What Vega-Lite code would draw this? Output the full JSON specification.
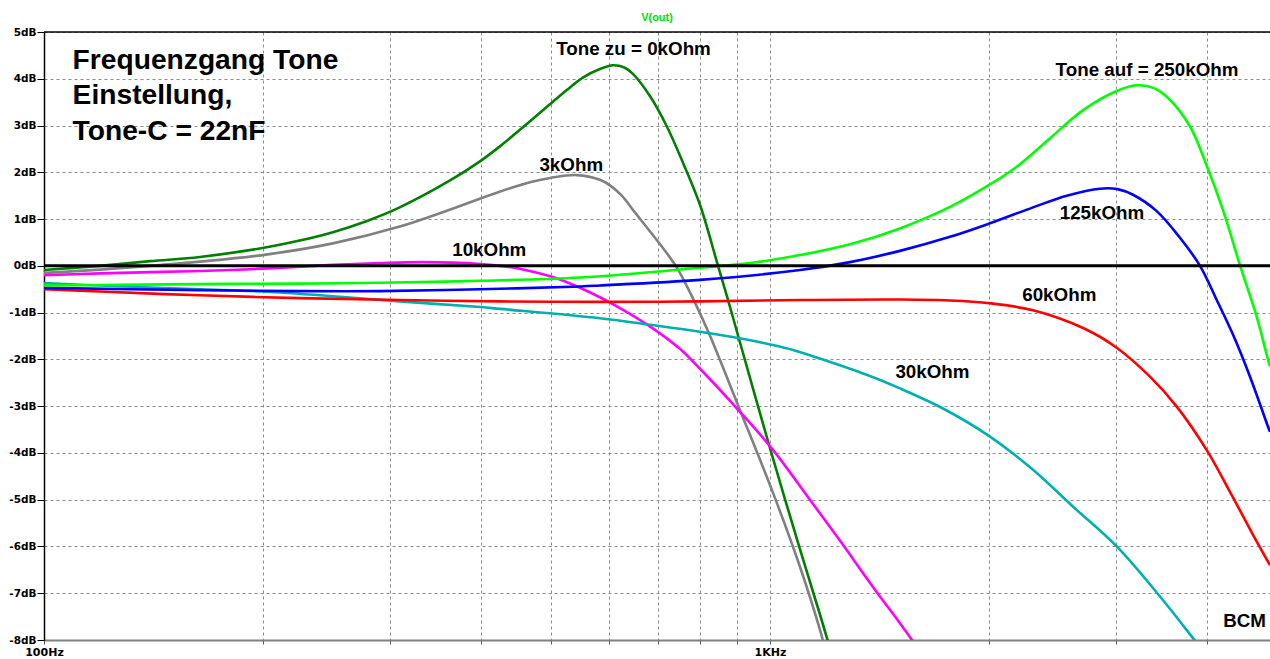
{
  "$schema": "https://vega.github.io/schema/vega-lite/v6.json",
  "width": 1226,
  "height": 608,
  "autosize": "none",
  "padding": {"left": 44, "top": 32, "right": 0, "bottom": 19},
  "background": "white",
  "config": {"view": {"stroke": null}, "font": "Liberation Sans"},
  "title": {"text": "V(out)", "color": "#00e000", "fontSize": 11, "fontWeight": "bold", "font": "Liberation Sans", "offset": 4},
  "datasets": {
    "curves": [
      {"s": "0k", "f": 100, "db": -0.09}, {"s": "0k", "f": 119.4, "db": 0.0}, {"s": "0k", "f": 140, "db": 0.1}, {"s": "0k", "f": 164, "db": 0.19},
      {"s": "0k", "f": 200, "db": 0.38}, {"s": "0k", "f": 225, "db": 0.54}, {"s": "0k", "f": 250, "db": 0.72}, {"s": "0k", "f": 278.6, "db": 0.96},
      {"s": "0k", "f": 309, "db": 1.25}, {"s": "0k", "f": 362, "db": 1.82}, {"s": "0k", "f": 399, "db": 2.24}, {"s": "0k", "f": 425, "db": 2.56},
      {"s": "0k", "f": 472, "db": 3.15}, {"s": "0k", "f": 525, "db": 3.76}, {"s": "0k", "f": 553, "db": 4.03}, {"s": "0k", "f": 583, "db": 4.21},
      {"s": "0k", "f": 608, "db": 4.29}, {"s": "0k", "f": 630, "db": 4.24}, {"s": "0k", "f": 648, "db": 4.1}, {"s": "0k", "f": 684, "db": 3.62}, {"s": "0k", "f": 721, "db": 2.98},
      {"s": "0k", "f": 759, "db": 2.2}, {"s": "0k", "f": 801, "db": 1.3}, {"s": "0k", "f": 848, "db": 0.0}, {"s": "0k", "f": 875, "db": -0.72},
      {"s": "0k", "f": 904, "db": -1.5}, {"s": "0k", "f": 1000, "db": -3.9}, {"s": "0k", "f": 1090, "db": -5.86}, {"s": "0k", "f": 1198, "db": -7.96},
      {"s": "0k", "f": 1229, "db": -8.6},

      {"s": "3k", "f": 100, "db": -0.15}, {"s": "3k", "f": 119.4, "db": -0.08}, {"s": "3k", "f": 164, "db": 0.09}, {"s": "3k", "f": 200, "db": 0.23},
      {"s": "3k", "f": 250, "db": 0.48}, {"s": "3k", "f": 309, "db": 0.84}, {"s": "3k", "f": 362, "db": 1.2}, {"s": "3k", "f": 425, "db": 1.59},
      {"s": "3k", "f": 470, "db": 1.8}, {"s": "3k", "f": 498, "db": 1.88}, {"s": "3k", "f": 542, "db": 1.94}, {"s": "3k", "f": 583, "db": 1.84},
      {"s": "3k", "f": 602, "db": 1.72}, {"s": "3k", "f": 625, "db": 1.5}, {"s": "3k", "f": 648, "db": 1.19}, {"s": "3k", "f": 684, "db": 0.73},
      {"s": "3k", "f": 721, "db": 0.27}, {"s": "3k", "f": 745, "db": -0.05}, {"s": "3k", "f": 769, "db": -0.45}, {"s": "3k", "f": 788, "db": -0.78},
      {"s": "3k", "f": 827, "db": -1.5}, {"s": "3k", "f": 909, "db": -3.08}, {"s": "3k", "f": 1010, "db": -4.86}, {"s": "3k", "f": 1100, "db": -6.44},
      {"s": "3k", "f": 1172, "db": -7.79}, {"s": "3k", "f": 1191, "db": -8.2},

      {"s": "10k", "f": 100, "db": -0.2}, {"s": "10k", "f": 119.4, "db": -0.16}, {"s": "10k", "f": 164, "db": -0.11}, {"s": "10k", "f": 200, "db": -0.06},
      {"s": "10k", "f": 250, "db": 0.02}, {"s": "10k", "f": 290, "db": 0.06}, {"s": "10k", "f": 333, "db": 0.08}, {"s": "10k", "f": 399, "db": 0.04},
      {"s": "10k", "f": 425, "db": 0.0}, {"s": "10k", "f": 452, "db": -0.06}, {"s": "10k", "f": 502, "db": -0.24}, {"s": "10k", "f": 553, "db": -0.5},
      {"s": "10k", "f": 616, "db": -0.87}, {"s": "10k", "f": 684, "db": -1.3}, {"s": "10k", "f": 752, "db": -1.78}, {"s": "10k", "f": 801, "db": -2.2},
      {"s": "10k", "f": 909, "db": -3.12}, {"s": "10k", "f": 1010, "db": -3.94}, {"s": "10k", "f": 1135, "db": -5.0}, {"s": "10k", "f": 1249, "db": -5.88},
      {"s": "10k", "f": 1387, "db": -6.87}, {"s": "10k", "f": 1510, "db": -7.64}, {"s": "10k", "f": 1569, "db": -8.0}, {"s": "10k", "f": 1609, "db": -8.25},

      {"s": "30k", "f": 100, "db": -0.37}, {"s": "30k", "f": 119.4, "db": -0.42}, {"s": "30k", "f": 164, "db": -0.5}, {"s": "30k", "f": 200, "db": -0.55},
      {"s": "30k", "f": 250, "db": -0.65}, {"s": "30k", "f": 309, "db": -0.76}, {"s": "30k", "f": 399, "db": -0.88}, {"s": "30k", "f": 425, "db": -0.92},
      {"s": "30k", "f": 583, "db": -1.12}, {"s": "30k", "f": 684, "db": -1.26}, {"s": "30k", "f": 801, "db": -1.41}, {"s": "30k", "f": 939, "db": -1.59},
      {"s": "30k", "f": 1000, "db": -1.68}, {"s": "30k", "f": 1076, "db": -1.8}, {"s": "30k", "f": 1160, "db": -1.96}, {"s": "30k", "f": 1359, "db": -2.33},
      {"s": "30k", "f": 1510, "db": -2.62}, {"s": "30k", "f": 1731, "db": -3.05}, {"s": "30k", "f": 2009, "db": -3.65}, {"s": "30k", "f": 2303, "db": -4.36},
      {"s": "30k", "f": 2615, "db": -5.15}, {"s": "30k", "f": 3003, "db": -6.0}, {"s": "30k", "f": 3445, "db": -7.07}, {"s": "30k", "f": 3825, "db": -7.96},
      {"s": "30k", "f": 3911, "db": -8.15},

      {"s": "60k", "f": 100, "db": -0.5}, {"s": "60k", "f": 119.4, "db": -0.55}, {"s": "60k", "f": 164, "db": -0.63}, {"s": "60k", "f": 225, "db": -0.69},
      {"s": "60k", "f": 309, "db": -0.73}, {"s": "60k", "f": 425, "db": -0.76}, {"s": "60k", "f": 583, "db": -0.77}, {"s": "60k", "f": 801, "db": -0.76},
      {"s": "60k", "f": 1100, "db": -0.73}, {"s": "60k", "f": 1510, "db": -0.72}, {"s": "60k", "f": 1770, "db": -0.74}, {"s": "60k", "f": 2009, "db": -0.8},
      {"s": "60k", "f": 2303, "db": -0.95}, {"s": "60k", "f": 2699, "db": -1.33}, {"s": "60k", "f": 3003, "db": -1.75}, {"s": "60k", "f": 3337, "db": -2.37},
      {"s": "60k", "f": 3633, "db": -3.01}, {"s": "60k", "f": 3995, "db": -3.94}, {"s": "60k", "f": 4342, "db": -4.95}, {"s": "60k", "f": 4627, "db": -5.75},
      {"s": "60k", "f": 4883, "db": -6.4},

      {"s": "125k", "f": 100, "db": -0.47}, {"s": "125k", "f": 164, "db": -0.52}, {"s": "125k", "f": 225, "db": -0.54}, {"s": "125k", "f": 290, "db": -0.54},
      {"s": "125k", "f": 399, "db": -0.5}, {"s": "125k", "f": 548, "db": -0.44}, {"s": "125k", "f": 583, "db": -0.42}, {"s": "125k", "f": 801, "db": -0.3},
      {"s": "125k", "f": 1100, "db": -0.09}, {"s": "125k", "f": 1289, "db": 0.08}, {"s": "125k", "f": 1510, "db": 0.32}, {"s": "125k", "f": 1770, "db": 0.62},
      {"s": "125k", "f": 2009, "db": 0.91}, {"s": "125k", "f": 2303, "db": 1.25}, {"s": "125k", "f": 2563, "db": 1.5}, {"s": "125k", "f": 2849, "db": 1.65},
      {"s": "125k", "f": 3010, "db": 1.64}, {"s": "125k", "f": 3162, "db": 1.52}, {"s": "125k", "f": 3409, "db": 1.17}, {"s": "125k", "f": 3670, "db": 0.6}, {"s": "125k", "f": 3911, "db": 0.0},
      {"s": "125k", "f": 4124, "db": -0.73}, {"s": "125k", "f": 4342, "db": -1.47}, {"s": "125k", "f": 4583, "db": -2.37}, {"s": "125k", "f": 4853, "db": -3.44},
      {"s": "125k", "f": 4883, "db": -3.55},

      {"s": "250k", "f": 100, "db": -0.42}, {"s": "250k", "f": 119.4, "db": -0.41}, {"s": "250k", "f": 164, "db": -0.39}, {"s": "250k", "f": 225, "db": -0.38},
      {"s": "250k", "f": 290, "db": -0.36}, {"s": "250k", "f": 399, "db": -0.32}, {"s": "250k", "f": 548, "db": -0.25},
      {"s": "250k", "f": 801, "db": -0.04}, {"s": "250k", "f": 939, "db": 0.06}, {"s": "250k", "f": 1100, "db": 0.23},
      {"s": "250k", "f": 1289, "db": 0.46}, {"s": "250k", "f": 1510, "db": 0.8}, {"s": "250k", "f": 1770, "db": 1.26}, {"s": "250k", "f": 2009, "db": 1.74},
      {"s": "250k", "f": 2187, "db": 2.12}, {"s": "250k", "f": 2431, "db": 2.73}, {"s": "250k", "f": 2699, "db": 3.33}, {"s": "250k", "f": 3003, "db": 3.74},
      {"s": "250k", "f": 3199, "db": 3.86}, {"s": "250k", "f": 3380, "db": 3.8}, {"s": "250k", "f": 3518, "db": 3.62}, {"s": "250k", "f": 3789, "db": 2.98}, {"s": "250k", "f": 3995, "db": 2.14},
      {"s": "250k", "f": 4207, "db": 1.19}, {"s": "250k", "f": 4440, "db": 0.01}, {"s": "250k", "f": 4682, "db": -1.09}, {"s": "250k", "f": 4853, "db": -2.01},
      {"s": "250k", "f": 4883, "db": -2.15}
    ],
    "labels": [
      {"t": "Tone zu = 0kOhm", "f": 648.6, "db": 4.51},
      {"t": "Tone auf = 250kOhm", "f": 3306, "db": 4.06},
      {"t": "3kOhm", "f": 532.4, "db": 2.03},
      {"t": "10kOhm", "f": 410.5, "db": 0.21},
      {"t": "125kOhm", "f": 2866, "db": 0.995},
      {"t": "60kOhm", "f": 2503, "db": -0.745},
      {"t": "30kOhm", "f": 1674, "db": -2.4},
      {"t": "BCM", "f": 4504, "db": -7.715}
    ],
    "heading": [
      {"t": "Frequenzgang Tone", "f": 109.5, "db": 4.2},
      {"t": "Einstellung,", "f": 109.5, "db": 3.46},
      {"t": "Tone-C = 22nF", "f": 109.5, "db": 2.69}
    ],
    "zero": [{"db": 0}],
    "top": [{"db": 5}]
  },
  "layer": [
    {
      "data": {"name": "curves"},
      "mark": {"type": "line", "strokeWidth": 2.6, "clip": true, "interpolate": "catmull-rom"},
      "encoding": {
        "x": {
          "field": "f", "type": "quantitative",
          "scale": {"type": "log", "domain": [100, 4883], "nice": false, "zero": false},
          "axis": {
            "title": null,
            "values": [100, 200, 300, 400, 500, 600, 700, 800, 900, 1000, 2000, 3000, 4000],
            "labelExpr": "datum.value == 100 ? '100Hz' : (datum.value == 1000 ? '1KHz' : '')",
            "labelFont": "DejaVu Sans", "labelFontSize": 11, "labelFontWeight": "bold", "labelColor": "black",
            "labelFlush": false, "labelOverlap": false, "labelBound": false, "labelPadding": 2,
            "grid": true, "gridColor": "#8c8c8c", "gridDash": [3, 3], "gridWidth": 1,
            "domainColor": "#808080", "domainWidth": 2,
            "tickColor": "#555555", "tickSize": 4, "tickWidth": 1
          }
        },
        "y": {
          "field": "db", "type": "quantitative",
          "scale": {"domain": [-8, 5], "nice": false, "zero": false},
          "axis": {
            "title": null,
            "values": [-8, -7, -6, -5, -4, -3, -2, -1, 0, 1, 2, 3, 4, 5],
            "labelExpr": "datum.value + 'dB'",
            "labelFont": "DejaVu Sans", "labelFontSize": 10.5, "labelFontWeight": "bold", "labelColor": "black",
            "labelFlush": false, "labelOverlap": false, "labelBound": false, "labelPadding": 1,
            "grid": true, "gridColor": "#8c8c8c", "gridDash": [3, 3], "gridWidth": 1,
            "domainColor": "black", "domainWidth": 1.5,
            "tickColor": "black", "tickSize": 7, "tickWidth": 1
          }
        },
        "color": {
          "field": "s", "type": "nominal", "legend": null,
          "scale": {
            "domain": ["0k", "3k", "10k", "30k", "60k", "125k", "250k"],
            "range": ["#008000", "#808080", "#ff00ff", "#00b0b0", "#ff0000", "#0000ff", "#00ff00"]
          }
        }
      }
    },
    {
      "data": {"name": "top"},
      "mark": {"type": "rule", "color": "black", "strokeWidth": 1.5},
      "encoding": {"y": {"field": "db", "type": "quantitative"}}
    },
    {
      "data": {"name": "zero"},
      "mark": {"type": "rule", "color": "black", "strokeWidth": 3},
      "encoding": {"y": {"field": "db", "type": "quantitative"}}
    },
    {
      "data": {"name": "labels"},
      "mark": {"type": "text", "fontSize": 18.8, "fontWeight": "bold", "align": "center", "baseline": "alphabetic", "color": "black", "font": "Liberation Sans"},
      "encoding": {
        "x": {"field": "f", "type": "quantitative"},
        "y": {"field": "db", "type": "quantitative"},
        "text": {"field": "t"}
      }
    },
    {
      "data": {"name": "heading"},
      "mark": {"type": "text", "fontSize": 28.2, "fontWeight": "bold", "align": "left", "baseline": "alphabetic", "color": "black", "font": "Liberation Sans"},
      "encoding": {
        "x": {"field": "f", "type": "quantitative"},
        "y": {"field": "db", "type": "quantitative"},
        "text": {"field": "t"}
      }
    }
  ]
}
